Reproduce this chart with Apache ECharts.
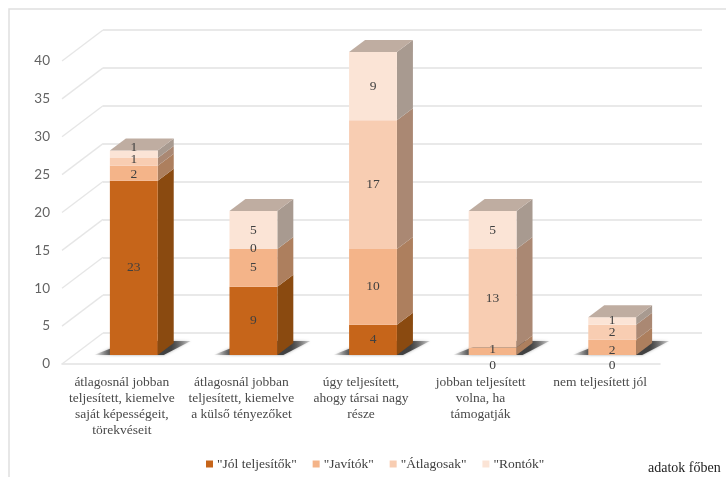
<!DOCTYPE html>
<html>
<head>
<meta charset="utf-8">
<style>html,body{margin:0;padding:0;background:#fff}#c{width:726px;height:477px}</style>
<script src="https://cdn.jsdelivr.net/npm/echarts@6/dist/echarts.min.js"></script>
</head>
<body>
<div id="c"></div>
<script>
const categories = [
  "átlagosnál jobban\nteljesített, kiemelve\nsaját képességeit,\ntörekvéseit",
  "átlagosnál jobban\nteljesített, kiemelve\na külső tényezőket",
  "úgy teljesített,\nahogy társai nagy\nrésze",
  "jobban teljesített\nvolna, ha\ntámogatják",
  "nem teljesített jól"
];
const seriesNames = ['"Jól teljesítők"', '"Javítók"', '"Átlagosak"', '"Rontók"'];
const jolTeljesitok = [23, 9, 4, 0, 0];
const javitok = [2, 5, 10, 1, 2];
const atlagosak = [1, 0, 17, 13, 2];
const rontok = [1, 5, 9, 5, 1];
const yTicks = [0, 5, 10, 15, 20, 25, 30, 35, 40];

const allValues = [jolTeljesitok, javitok, atlagosak, rontok];
const frontColors = ['#C6651A', '#F4B489', '#F8CDB2', '#FBE4D6'];
const sideColors = ['#8A4A10', '#AD7F5E', '#AA8873', '#A89A90'];
const topColor = '#BFADA1';
const DX = 16, DY = 12;
const SERIF = '"Liberation Serif", serif';
// label nudges (series index -> category index -> px)
const labelNudge = {0: {3: 10, 4: 10}, 1: {0: 1, 3: -2, 4: 3}, 2: {0: -2}, 3: {0: -7}};

function rowsFor(si) {
  return categories.map((c, ci) => {
    let start = 0;
    for (let k = 0; k < si; k++) start += allValues[k][ci];
    const v = allValues[si][ci];
    let above = 0;
    for (let k = si + 1; k < allValues.length; k++) above += allValues[k][ci];
    return [ci, start, start + v, v, above === 0 ? 1 : 0];
  });
}

function stackSeries(si) {
  return {
    type: 'custom', name: seriesNames[si], xAxisIndex: 1, yAxisIndex: 1, z: 5 + si,
    itemStyle: {color: frontColors[si]},
    encode: {x: 0, y: [1, 2]}, data: rowsFor(si), clip: false, silent: true,
    renderItem(params, api) {
      const ci = api.value(0), a = api.value(1), b = api.value(2), val = api.value(3), isTop = api.value(4);
      const p0 = api.coord([ci, a]), p1 = api.coord([ci, b]);
      const w = api.size([1, 0])[0] * 0.4;
      const xL = p0[0] - w / 2, xR = p0[0] + w / 2, yB = p0[1], yT = p1[1];
      const children = [];
      if (val > 0) {
        children.push({type: 'polygon', shape: {points: [[xR, yB], [xR + DX, yB - DY], [xR + DX, yT - DY], [xR, yT]]}, style: {fill: sideColors[si]}});
        children.push({type: 'rect', shape: {x: xL, y: yT, width: w, height: yB - yT}, style: {fill: frontColors[si]}});
        if (isTop) children.push({type: 'polygon', shape: {points: [[xL, yT], [xL + DX, yT - DY], [xR + DX, yT - DY], [xR, yT]]}, style: {fill: topColor}});
      }
      return {type: 'group', children};
    }
  };
}

function labelSeries(si) {
  return {
    type: 'custom', xAxisIndex: 1, yAxisIndex: 1, z: 20,
    encode: {x: 0, y: [1, 2]}, data: rowsFor(si), clip: false, silent: true,
    renderItem(params, api) {
      const ci = api.value(0), val = api.value(3);
      const p0 = api.coord([ci, api.value(1)]), p1 = api.coord([ci, api.value(2)]);
      const dy = (labelNudge[si] && labelNudge[si][ci]) || 0;
      return {type: 'text', style: {x: p0[0], y: (p0[1] + p1[1]) / 2 + dy, text: String(val), align: 'center', verticalAlign: 'middle', font: '13.5px ' + SERIF, fill: '#404040'}};
    }
  };
}

const option = {
  animation: false,
  backgroundColor: '#fff',
  grid: [
    {left: 103, top: 30, width: 599, height: 303},
    {left: 74, top: 52, width: 598, height: 303},
    {left: 62, top: 61, width: 598, height: 303}
  ],
  xAxis: [
    {gridIndex: 0, type: 'category', data: categories, show: false},
    {gridIndex: 1, type: 'category', data: categories, show: false},
    {gridIndex: 2, type: 'category', data: categories,
     axisLine: {lineStyle: {color: '#E2E2E2', width: 1.5}}, axisTick: {show: false},
     axisLabel: {interval: 0, margin: 10, lineHeight: 16, fontFamily: SERIF, fontSize: 13.5, color: '#4A4A4A'}}
  ],
  yAxis: [
    {gridIndex: 0, type: 'value', min: 0, max: 40, interval: 5, axisLabel: {show: false}, axisLine: {show: false}, axisTick: {show: false},
     splitLine: {lineStyle: {color: '#E2E2E2', width: 1.5}}},
    {gridIndex: 1, type: 'value', min: 0, max: 40, interval: 5, show: false, splitLine: {show: false}},
    {gridIndex: 2, type: 'value', min: 0, max: 40, interval: 5, axisLine: {show: false}, axisTick: {show: false}, splitLine: {show: false},
     axisLabel: {margin: 12, padding: [4, 0, 0, 0], fontFamily: 'Lato', fontSize: 13.5, color: '#636363'}}
  ],
  legend: {
    left: 201, top: 452, itemWidth: 7, itemHeight: 7, itemGap: 16, icon: 'rect', data: seriesNames,
    textStyle: {fontFamily: SERIF, fontSize: 13.5, color: '#404040', padding: [0, 0, 0, -1]}
  },
  graphic: [
    {type: 'rect', z: -1, shape: {x: 9, y: 9, width: 760, height: 520}, style: {fill: '#fff', stroke: '#E0E0E0', lineWidth: 1.5}},
    {type: 'text', left: 648, top: 461, style: {text: 'adatok főben', font: '14px ' + SERIF, fill: '#222'}}
  ],
  series: [
    {type: 'custom', xAxisIndex: 2, yAxisIndex: 2, z: 1, silent: true, clip: false,
     data: yTicks.map(t => [0, t]), encode: {x: 0, y: 1},
     renderItem(params, api) {
       const y = api.coord([0, api.value(1)])[1], x = params.coordSys.x;
       return {type: 'line', shape: {x1: x, y1: y, x2: x + 41, y2: y - 31}, style: {stroke: '#E6E6E6', lineWidth: 1.3}};
     }},
    {type: 'custom', xAxisIndex: 1, yAxisIndex: 1, z: 2, silent: true, clip: false,
     data: categories.map((c, i) => [i, 0]), encode: {x: 0, y: 1},
     renderItem(params, api) {
       const p = api.coord([api.value(0), 0]);
       const w = api.size([1, 0])[0] * 0.4;
       const xL = p[0] - w / 2, xR = p[0] + w / 2, y = p[1];
       return {type: 'polygon',
         shape: {points: [[xL - 16, y], [xR + 6, y], [xR + 33, y - 14], [xL + 20, y - 14]]},
         style: {
           fill: {type: 'linear', x: 0, y: 0, x2: 1, y2: 0, colorStops: [
             {offset: 0, color: 'rgba(60,60,60,0)'},
             {offset: 0.2, color: 'rgba(60,60,60,0.95)'},
             {offset: 0.8, color: 'rgba(60,60,60,0.95)'},
             {offset: 1, color: 'rgba(60,60,60,0.2)'}
           ]},
           shadowBlur: 3, shadowColor: 'rgba(60,60,60,0.5)'
         }};
     }},
    stackSeries(0), stackSeries(1), stackSeries(2), stackSeries(3),
    labelSeries(0), labelSeries(1), labelSeries(2), labelSeries(3)
  ]
};
echarts.init(document.getElementById('c'), null, {renderer: 'canvas'}).setOption(option);
</script>
</body>
</html>
